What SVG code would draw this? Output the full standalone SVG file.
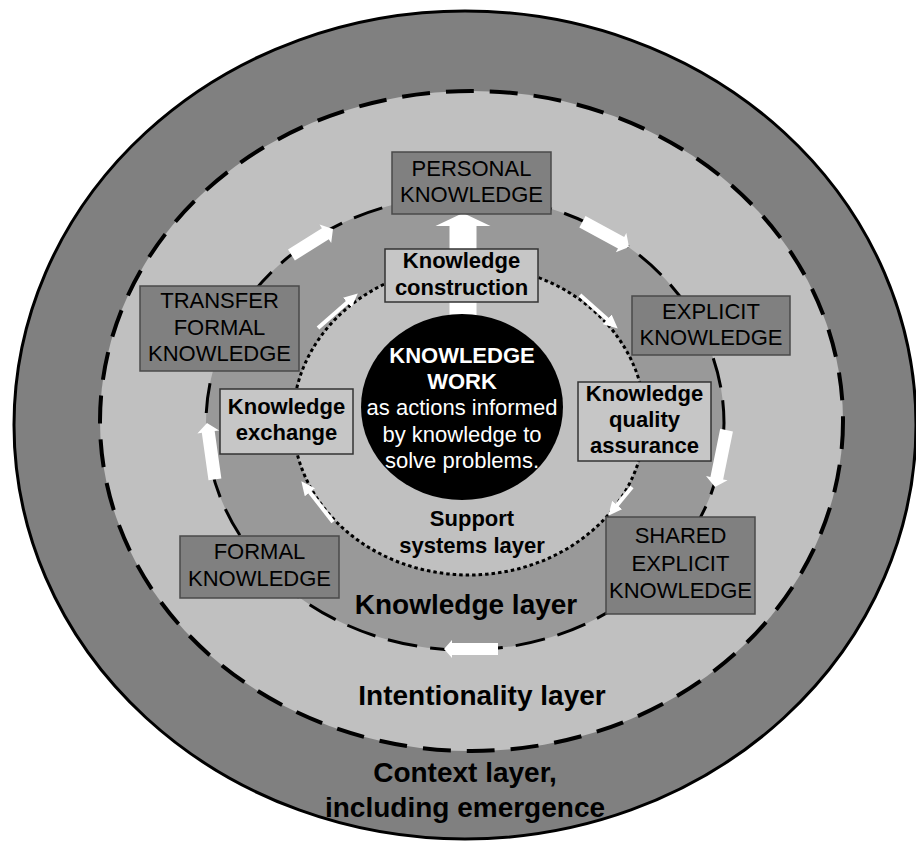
<svg xmlns="http://www.w3.org/2000/svg" width="916" height="842" viewBox="0 0 916 842">
  <defs>
    <style>
      text { font-family: "Liberation Sans", Arial, sans-serif; text-anchor: middle; fill: #000; }
      .reg { font-size: 22px; }
      .bold { font-size: 22px; font-weight: bold; }
      .layer { font-size: 28px; font-weight: bold; }
      .inv { fill: #fff; }
      .dark { fill: #808080; stroke: #4a4a4a; stroke-width: 1.5; }
      .light { fill: #c6c6c6; stroke: #333; stroke-width: 1.5; }
      .blk { fill: #fff; stroke: none; }
      .thin { stroke: #fff; stroke-width: 4; fill: none; marker-end: url(#head); }
    </style>
    <marker id="head" markerUnits="userSpaceOnUse" markerWidth="15" markerHeight="13" refX="3" refY="6.5" orient="auto">
      <path d="M0,0 L14,6.5 L0,13 Z" fill="#fff"/>
    </marker>
  </defs>

  <rect width="916" height="842" fill="#fff"/>

  <!-- layers -->
  <g id="context-layer">
    <ellipse cx="465" cy="425" rx="451" ry="414" fill="#808080" stroke="#000" stroke-width="3"/>
  </g>
  <g id="intentionality-layer">
    <ellipse cx="471.5" cy="421" rx="371.5" ry="330" fill="#c0c0c0" stroke="#000" stroke-width="4" stroke-dasharray="28 16"/>
  </g>
  <g id="knowledge-layer">
    <ellipse cx="465" cy="423" rx="259" ry="227" fill="#999999" stroke="#000" stroke-width="3" stroke-dasharray="30 13"/>
  </g>
  <g id="support-layer">
    <ellipse cx="469" cy="420" rx="176" ry="155" fill="#c0c0c0" stroke="#000" stroke-width="3" stroke-dasharray="3.5 3"/>
  </g>

  <!-- connectors -->
  <g id="connectors">
    <!-- construction to personal knowledge -->
    <path class="blk" d="M463,213 L490.5,226 L476.5,226 L476.5,318 L449.5,318 L449.5,226 L435.5,226 Z"/>
    <!-- cycle on the knowledge layer (clockwise) -->
    <path class="blk" transform="translate(333,229) rotate(-32)" d="M0,0 L-9,-11 L-9,-6.5 L-49,-6.5 L-49,6.5 L-9,6.5 L-9,11 Z"/>
    <path class="blk" transform="translate(629,247) rotate(28.5)" d="M0,0 L-9,-11 L-9,-6.5 L-53,-6.5 L-53,6.5 L-9,6.5 L-9,11 Z"/>
    <path class="blk" transform="translate(715,487) rotate(101.5)" d="M0,0 L-9,-11 L-9,-6.5 L-58,-6.5 L-58,6.5 L-9,6.5 L-9,11 Z"/>
    <path class="blk" transform="translate(444,649) rotate(180)" d="M0,0 L-8,-9 L-8,-6 L-54,-6 L-54,6 L-8,6 L-8,9 Z"/>
    <path class="blk" transform="translate(207,423) rotate(-98)" d="M0,0 L-9,-11 L-9,-6.5 L-57,-6.5 L-57,6.5 L-9,6.5 L-9,11 Z"/>
    <!-- cycle on the support systems layer -->
    <path class="thin" d="M318,328 L349.5,300.6"/>
    <path class="thin" d="M580,295 L609.5,321.3"/>
    <path class="thin" d="M632,487 L615.3,507.3"/>
    <path class="thin" d="M333,522 L308.1,489.9"/>
  </g>

  <!-- centre -->
  <g id="knowledge-work">
    <ellipse cx="462" cy="407" rx="101" ry="93" fill="#000"/>
    <text class="bold inv" x="462" y="363">KNOWLEDGE</text>
    <text class="bold inv" x="462" y="389">WORK</text>
    <text class="reg inv" x="462" y="415">as actions informed</text>
    <text class="reg inv" x="462" y="442">by knowledge to</text>
    <text class="reg inv" x="462" y="468">solve problems.</text>
  </g>

  <!-- inner process boxes -->
  <g id="knowledge-construction">
    <rect class="light" x="385" y="249" width="153" height="53"/>
    <text class="bold" x="461.5" y="268">Knowledge</text>
    <text class="bold" x="461.5" y="295">construction</text>
  </g>
  <g id="knowledge-exchange">
    <rect class="light" x="220" y="389" width="133" height="65"/>
    <text class="bold" x="286.5" y="414">Knowledge</text>
    <text class="bold" x="286.5" y="440">exchange</text>
  </g>
  <g id="knowledge-quality-assurance">
    <rect class="light" x="578" y="382" width="133" height="79"/>
    <text class="bold" x="644.5" y="401">Knowledge</text>
    <text class="bold" x="644.5" y="427">quality</text>
    <text class="bold" x="644.5" y="453">assurance</text>
  </g>

  <!-- knowledge states -->
  <g id="personal-knowledge">
    <rect class="dark" x="392" y="152" width="159" height="62"/>
    <text class="reg" x="471.5" y="176">PERSONAL</text>
    <text class="reg" x="471.5" y="202">KNOWLEDGE</text>
  </g>
  <g id="explicit-knowledge">
    <rect class="dark" x="632" y="296" width="158" height="59"/>
    <text class="reg" x="711" y="319">EXPLICIT</text>
    <text class="reg" x="711" y="345">KNOWLEDGE</text>
  </g>
  <g id="shared-explicit-knowledge">
    <rect class="dark" x="606" y="517" width="149" height="97"/>
    <text class="reg" x="680.5" y="543">SHARED</text>
    <text class="reg" x="680.5" y="571">EXPLICIT</text>
    <text class="reg" x="680.5" y="598">KNOWLEDGE</text>
  </g>
  <g id="formal-knowledge">
    <rect class="dark" x="180" y="536" width="159" height="62"/>
    <text class="reg" x="259.5" y="559">FORMAL</text>
    <text class="reg" x="259.5" y="586">KNOWLEDGE</text>
  </g>
  <g id="transfer-formal-knowledge">
    <rect class="dark" x="140" y="286" width="159" height="85"/>
    <text class="reg" x="219.5" y="308">TRANSFER</text>
    <text class="reg" x="219.5" y="335">FORMAL</text>
    <text class="reg" x="219.5" y="361">KNOWLEDGE</text>
  </g>

  <!-- layer labels -->
  <g id="labels">
    <text class="bold" x="472" y="526">Support</text>
    <text class="bold" x="472" y="553">systems layer</text>
    <text class="layer" x="466" y="614">Knowledge layer</text>
    <text class="layer" x="482" y="705">Intentionality layer</text>
    <text class="layer" x="465" y="782">Context layer,</text>
    <text class="layer" x="465" y="817">including emergence</text>
  </g>
</svg>
